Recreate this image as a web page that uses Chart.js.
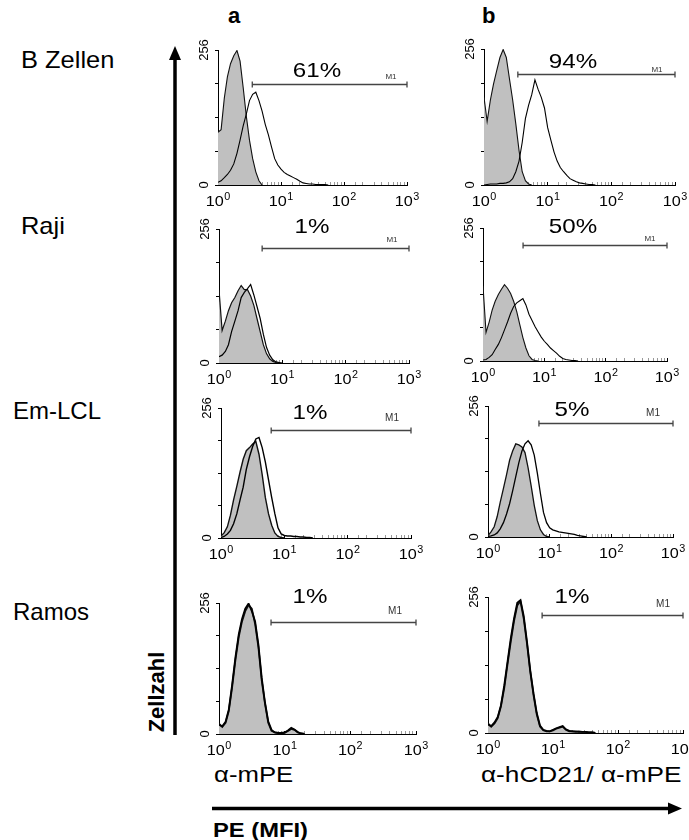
<!DOCTYPE html>
<html><head><meta charset="utf-8">
<script src="https://cdn.jsdelivr.net/npm/chart.js@4.4.1/dist/chart.umd.min.js"></script>
<style>
html,body{margin:0;padding:0;background:#fff;}
body{width:689px;height:840px;overflow:hidden;position:relative;font-family:"Liberation Sans",Arial,sans-serif;color:#000;}
.t{position:absolute;white-space:nowrap;line-height:1;}
canvas{position:absolute;}
</style></head><body>
<svg width="689" height="840" style="position:absolute;left:0;top:0">
  <line x1="175" y1="735" x2="175" y2="57" stroke="#000" stroke-width="3.5"/>
  <polygon points="175,46 169,60 181,60" fill="#000"/>
  <line x1="212" y1="808.5" x2="670" y2="808.5" stroke="#000" stroke-width="3.5"/>
  <polygon points="682,808.5 668,802.5 668,814.5" fill="#000"/>
</svg>
<div class="t" style="left:228px;top:5px;font-size:22px;font-weight:bold">a</div>
<div class="t" style="left:482px;top:5px;font-size:22px;font-weight:bold">b</div>
<div class="t" id="r0" style="left:21px;top:48px;font-size:24px;transform:scaleX(1.06);transform-origin:0 0"></div>
<div class="t" id="r1" style="left:21px;top:214px;font-size:24px;transform:scaleX(1.06);transform-origin:0 0"></div>
<div class="t" id="r2" style="left:13px;top:399px;font-size:24px"></div>
<div class="t" id="r3" style="left:13px;top:600px;font-size:24px"></div>
<div class="t" style="left:157px;top:692px;font-size:22px;font-weight:bold;transform:translate(-50%,-50%) rotate(-90deg)">Zellzahl</div>
<div class="t" style="left:214px;top:764px;font-size:22px;transform:scaleX(1.17);transform-origin:0 0">α-mPE</div>
<div class="t" style="right:8px;top:764px;font-size:22px;transform:scaleX(1.19);transform-origin:100% 0">α-hCD21/ α-mPE</div>
<div class="t" style="left:213px;top:819px;font-size:21px;font-weight:bold;transform:scaleX(1.13);transform-origin:0 0">PE (MFI)</div>
<script>
// ---------------- data ----------------
const rowLabels = ['B Zellen', 'Raji', 'Em-LCL', 'Ramos'];
// fluorescence channel centres (MFI), 0.05-decade bins
const channels = [1.00,1.12,1.26,1.41,1.58,1.78,2.00,2.24,2.51,2.82,3.16,3.55,3.98,4.47,5.01,5.62,6.31,7.08,7.94,8.91,10.0,11.2,12.6,14.1,15.8,17.8,20.0,22.4,25.1,28.2,31.6,35.5,39.8,44.7,50.1,56.2,63.1];
const xTickValues = [1, 10, 100, 1000];
const xTickBase = ['10', '10', '10', '10'];
const xTickExp = ['0', '1', '2', '3'];
const yTickValues = [0, 256];
const yTickLabels = ['0', '256'];

// grey = control, open = stained
const controlA1 = [100,105,165,205,230,245,255,235,185,130,85,50,25,8,0];
const stainedA1 = [5,8,14,20,28,40,60,85,112,135,160,172,176,160,140,115,95,72,50,38,30,24,20,17,14,11,7,4,3,2,2,1,1,1,1,0];
const controlB1 = [165,120,160,190,215,240,255,240,200,160,115,65,25,8,2,0];
const stainedB1 = [0,1,2,2,2,3,3,4,6,12,25,45,80,125,150,170,198,180,165,145,108,85,62,45,33,25,18,12,9,6,4,3,2,1,1,0];
const controlA2 = [140,62,80,100,115,125,138,148,140,140,128,110,85,60,35,18,8,3,1,0];
const stainedA2 = [12,15,22,35,60,80,100,125,135,142,150,130,108,85,55,30,15,6,2,1,0];
const controlB2 = [145,55,75,98,115,128,138,147,140,130,115,95,70,45,25,10,3,1,0];
const stainedB2 = [2,3,7,12,22,32,45,60,75,92,105,112,116,120,108,90,78,66,56,46,38,32,25,20,15,9,5,3,2,1,1,0];
const controlA3 = [4,10,22,45,75,102,130,155,172,178,185,190,165,125,80,48,25,10,3,1,0];
const stainedA3 = [1,3,8,15,28,48,75,100,135,160,180,195,198,178,150,115,80,48,20,8,5,4,4,3,3,2,2,1,1,0];
const controlB3 = [3,10,20,40,68,95,122,150,168,182,180,176,165,135,100,62,32,14,5,1,0];
const stainedB3 = [1,2,4,8,16,28,45,65,90,118,145,168,182,188,180,160,125,85,48,28,18,14,12,10,9,8,7,6,5,3,2,1,0];
const controlA4 = [20,14,22,45,90,145,190,220,240,252,245,215,170,105,60,22,6,3,2,1,2,6,10,8,3,1,0];
const stainedA4 = [18,15,24,48,95,150,195,225,245,255,240,220,175,110,62,25,8,3,2,2,3,7,12,9,4,1,0];
const controlB4 = [18,12,18,28,50,85,130,172,210,240,248,215,168,115,72,35,12,5,3,3,5,8,10,12,6,3,3,2,3,2,2,1,1,0];
const stainedB4 = [16,13,20,30,52,90,135,178,215,245,250,220,172,118,75,38,14,6,4,3,6,9,11,13,7,4,3,3,2,2,2,1,1,0];

const gateNames = ['M1','M1','M1','M1','M1','M1','M1','M1'];
const gateStart = [3.5, 3.4, 4.8, 4.5, 6.2, 6.7, 6.2, 6.8];
const gateEnd = [1000, 1000, 1000, 1000, 1000, 1000, 1000, 1000];
const gateLevel = [192, 209, 220, 223, 213, 223, 219, 222];
const percentLabels = ['61%', '94%', '1%', '50%', '1%', '5%', '1%', '1%'];

// ---------------- layout (positions / styles only) ----------------
const controls = [controlA1, controlB1, controlA2, controlB2, controlA3, controlB3, controlA4, controlB4];
const stained = [stainedA1, stainedB1, stainedA2, stainedB2, stainedA3, stainedB3, stainedA4, stainedB4];
const plots = [
  {l:218,t:50,r:407,b:185, pdx:99, pdy:21, m1dx:-16, m1dy:-8, m1s:8, lw:1.1},
  {l:484,t:49,r:675,b:185, pdx:89, pdy:13, m1dx:-18, m1dy:-5, m1s:8, lw:1.1},
  {l:219,t:229,r:409,b:363, pdx:93, pdy:-2, m1dx:-17, m1dy:-9, m1s:8, lw:1.2},
  {l:483,t:228,r:667,b:361, pdx:90, pdy:-1, m1dx:-17, m1dy:-7, m1s:8, lw:1.1},
  {l:221,t:408,r:411,b:538, pdx:89, pdy:5, m1dx:-19, m1dy:-12, m1s:10, lw:1.4},
  {l:488,t:406,r:673,b:537, pdx:84, pdy:4, m1dx:-20, m1dy:-10, m1s:10, lw:1.3},
  {l:219,t:603,r:416,b:734, pdx:91, pdy:-6, m1dx:-21, m1dy:-11, m1s:10, lw:1.8},
  {l:488,t:597,r:683,b:733, pdx:84, pdy:0, m1dx:-20, m1dy:-11, m1s:10, lw:1.8}
];
const PADL = 30, PADT = 30, PADR = 20, PADB = 28;
const FONT = '"Liberation Sans", Arial, sans-serif';

rowLabels.forEach((s, k) => { document.getElementById('r' + k).textContent = s; });

function toPts(arr) { return arr.map((v, k) => ({x: channels[k], y: v})); }
function isMajor(v) { return xTickValues.some(t => Math.abs(Math.log10(v) - Math.log10(t)) < 1e-6); }

const annot = {
  id: 'annot',
  afterDraw(chart, args, opts) {
    const i = opts.index, L = plots[i];
    const {ctx, chartArea: ca, scales: {x, y}} = chart;
    ctx.save();
    ctx.fillStyle = '#000';
    // y tick labels (rotated)
    ctx.font = '13px ' + FONT;
    ctx.textAlign = 'center';
    ctx.textBaseline = 'middle';
    yTickValues.forEach((v, k) => {
      const py = y.getPixelForValue(v);
      ctx.save();
      ctx.translate(ca.left - 14, py);
      ctx.rotate(-Math.PI / 2);
      ctx.fillText(yTickLabels[k], 0, 0);
      ctx.restore();
    });
    // x tick labels 10^n
    ctx.textAlign = 'left';
    ctx.textBaseline = 'alphabetic';
    xTickValues.forEach((v, k) => {
      const px = x.getPixelForValue(v);
      ctx.font = '15px ' + FONT;
      const wb = ctx.measureText(xTickBase[k]).width;
      ctx.font = '10px ' + FONT;
      const we = ctx.measureText(xTickExp[k]).width;
      const sx = 1.08;
      const tot = (wb + we + 0.5) * sx;
      ctx.save();
      ctx.translate(px - tot / 2, ca.bottom + 21);
      ctx.scale(sx, 1);
      ctx.font = '15px ' + FONT;
      ctx.fillText(xTickBase[k], 0, 0);
      ctx.font = '10px ' + FONT;
      ctx.fillText(xTickExp[k], wb + 0.5, -6);
      ctx.restore();
    });
    // gate marker
    const x1 = x.getPixelForValue(gateStart[i]);
    const x2 = x.getPixelForValue(gateEnd[i]);
    const gy = Math.round(y.getPixelForValue(gateLevel[i])) + 0.5;
    ctx.strokeStyle = '#444';
    ctx.lineWidth = 1.3;
    ctx.beginPath();
    ctx.moveTo(x1, gy); ctx.lineTo(x2, gy);
    ctx.moveTo(x1, gy - 3); ctx.lineTo(x1, gy + 3);
    ctx.moveTo(x2, gy - 3); ctx.lineTo(x2, gy + 3);
    ctx.stroke();
    ctx.textAlign = 'center';
    ctx.textBaseline = 'middle';
    ctx.fillStyle = '#333';
    ctx.font = L.m1s + 'px ' + FONT;
    ctx.fillText(gateNames[i], x2 + L.m1dx, gy + L.m1dy);
    // percentage
    ctx.fillStyle = '#000';
    ctx.font = '21px ' + FONT;
    ctx.save();
    ctx.translate(ca.left + L.pdx, ca.top + L.pdy);
    ctx.scale(1.15, 1);
    ctx.fillText(percentLabels[i], 0, 0);
    ctx.restore();
    ctx.restore();
  }
};

plots.forEach((P, i) => {
  const cv = document.createElement('canvas');
  const W = PADL + (P.r - P.l) + PADR, H = PADT + (P.b - P.t) + PADB;
  cv.width = W; cv.height = H;
  cv.style.width = W + 'px'; cv.style.height = H + 'px';
  cv.style.left = (P.l - PADL) + 'px'; cv.style.top = (P.t - PADT) + 'px';
  document.body.appendChild(cv);
  new Chart(cv, {
    type: 'line',
    data: {
      datasets: [
        {label: 'stained', data: toPts(stained[i]), borderColor: '#000', borderWidth: P.lw, fill: false,
         pointRadius: 0, tension: 0, order: 0},
        {label: 'control', data: toPts(controls[i]), borderColor: '#111', backgroundColor: '#c0c0c0',
         borderWidth: P.lw, fill: 'origin', pointRadius: 0, tension: 0, order: 1}
      ]
    },
    options: {
      responsive: false, animation: false, devicePixelRatio: 1,
      layout: {padding: {left: 0, top: PADT, right: PADR, bottom: 0}},
      plugins: {legend: {display: false}, tooltip: {enabled: false}, annot: {index: i}},
      scales: {
        x: {
          type: 'logarithmic', min: 1, max: 1000, position: 'bottom',
          afterFit(s) { s.height = PADB; },
          border: {display: true, color: '#000', width: 1},
          grid: {drawOnChartArea: false, drawTicks: true, tickLength: -3,
                 tickColor: c => (c.tick && isMajor(c.tick.value)) ? '#000' : '#999'},
          ticks: {display: false, autoSkip: false}
        },
        y: {
          type: 'linear', min: 0, max: 256,
          afterFit(s) { s.width = PADL; },
          border: {display: true, color: '#000', width: 1},
          grid: {drawOnChartArea: false, drawTicks: true, tickLength: 3, tickColor: '#000'},
          ticks: {display: false, stepSize: 64}
        }
      }
    },
    plugins: [annot]
  });
});
</script>
</body></html>
